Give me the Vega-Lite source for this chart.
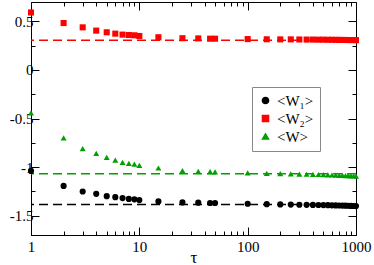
{
  "$schema": "https://vega.github.io/schema/vega-lite/v6.json",
  "width": 325,
  "height": 233,
  "autosize": "none",
  "padding": {"left": 31, "top": 2, "right": 18, "bottom": 30},
  "background": "white",
  "config": {
    "view": {"stroke": "black", "strokeWidth": 1},
    "axis": {"grid": false, "domainColor": "black", "tickColor": "black", "labelFont": "Liberation Serif", "labelFontSize": 15, "labelColor": "black", "titleFont": "Liberation Serif", "titleColor": "black", "titleFontWeight": "normal"}
  },
  "datasets": {
    "pts": [
      {"tau":1,"s":"<W₁>","v":-1.04},{"tau":2,"s":"<W₁>","v":-1.194},{"tau":3,"s":"<W₁>","v":-1.252},{"tau":4,"s":"<W₁>","v":-1.276},{"tau":5,"s":"<W₁>","v":-1.30},{"tau":6,"s":"<W₁>","v":-1.31},{"tau":7,"s":"<W₁>","v":-1.32},{"tau":8,"s":"<W₁>","v":-1.328},{"tau":9,"s":"<W₁>","v":-1.333},{"tau":10,"s":"<W₁>","v":-1.34},{"tau":15,"s":"<W₁>","v":-1.354},{"tau":25,"s":"<W₁>","v":-1.364},{"tau":35,"s":"<W₁>","v":-1.367},{"tau":45,"s":"<W₁>","v":-1.37},{"tau":50,"s":"<W₁>","v":-1.37},{"tau":100,"s":"<W₁>","v":-1.378},{"tau":150,"s":"<W₁>","v":-1.382},{"tau":200,"s":"<W₁>","v":-1.385},{"tau":250,"s":"<W₁>","v":-1.387},{"tau":300,"s":"<W₁>","v":-1.388},{"tau":350,"s":"<W₁>","v":-1.389},{"tau":400,"s":"<W₁>","v":-1.39},{"tau":450,"s":"<W₁>","v":-1.391},{"tau":500,"s":"<W₁>","v":-1.392},{"tau":550,"s":"<W₁>","v":-1.393},{"tau":600,"s":"<W₁>","v":-1.394},{"tau":650,"s":"<W₁>","v":-1.395},{"tau":700,"s":"<W₁>","v":-1.396},{"tau":750,"s":"<W₁>","v":-1.397},{"tau":800,"s":"<W₁>","v":-1.398},{"tau":850,"s":"<W₁>","v":-1.399},{"tau":900,"s":"<W₁>","v":-1.40},{"tau":950,"s":"<W₁>","v":-1.401},{"tau":1000,"s":"<W₁>","v":-1.402},
      {"tau":1,"s":"<W₂>","v":0.592},{"tau":2,"s":"<W₂>","v":0.483},{"tau":3,"s":"<W₂>","v":0.439},{"tau":4,"s":"<W₂>","v":0.405},{"tau":5,"s":"<W₂>","v":0.388},{"tau":6,"s":"<W₂>","v":0.374},{"tau":7,"s":"<W₂>","v":0.364},{"tau":8,"s":"<W₂>","v":0.36},{"tau":9,"s":"<W₂>","v":0.357},{"tau":10,"s":"<W₂>","v":0.35},{"tau":15,"s":"<W₂>","v":0.337},{"tau":25,"s":"<W₂>","v":0.327},{"tau":35,"s":"<W₂>","v":0.325},{"tau":45,"s":"<W₂>","v":0.322},{"tau":50,"s":"<W₂>","v":0.322},{"tau":100,"s":"<W₂>","v":0.318},{"tau":150,"s":"<W₂>","v":0.316},{"tau":200,"s":"<W₂>","v":0.315},{"tau":250,"s":"<W₂>","v":0.315},{"tau":300,"s":"<W₂>","v":0.314},{"tau":350,"s":"<W₂>","v":0.313},{"tau":400,"s":"<W₂>","v":0.313},{"tau":450,"s":"<W₂>","v":0.312},{"tau":500,"s":"<W₂>","v":0.312},{"tau":550,"s":"<W₂>","v":0.311},{"tau":600,"s":"<W₂>","v":0.311},{"tau":650,"s":"<W₂>","v":0.31},{"tau":700,"s":"<W₂>","v":0.31},{"tau":750,"s":"<W₂>","v":0.309},{"tau":800,"s":"<W₂>","v":0.309},{"tau":850,"s":"<W₂>","v":0.308},{"tau":900,"s":"<W₂>","v":0.308},{"tau":950,"s":"<W₂>","v":0.308},{"tau":1000,"s":"<W₂>","v":0.307},
      {"tau":1,"s":"<W>","v":-0.442},{"tau":2,"s":"<W>","v":-0.70},{"tau":3,"s":"<W>","v":-0.81},{"tau":4,"s":"<W>","v":-0.86},{"tau":5,"s":"<W>","v":-0.90},{"tau":6,"s":"<W>","v":-0.929},{"tau":7,"s":"<W>","v":-0.952},{"tau":8,"s":"<W>","v":-0.963},{"tau":9,"s":"<W>","v":-0.969},{"tau":10,"s":"<W>","v":-0.983},{"tau":15,"s":"<W>","v":-1.01},{"tau":25,"s":"<W>","v":-1.037},{"tau":35,"s":"<W>","v":-1.044},{"tau":45,"s":"<W>","v":-1.048},{"tau":50,"s":"<W>","v":-1.05},{"tau":100,"s":"<W>","v":-1.06},{"tau":150,"s":"<W>","v":-1.065},{"tau":200,"s":"<W>","v":-1.068},{"tau":250,"s":"<W>","v":-1.07},{"tau":300,"s":"<W>","v":-1.072},{"tau":350,"s":"<W>","v":-1.074},{"tau":400,"s":"<W>","v":-1.076},{"tau":450,"s":"<W>","v":-1.077},{"tau":500,"s":"<W>","v":-1.079},{"tau":550,"s":"<W>","v":-1.08},{"tau":600,"s":"<W>","v":-1.082},{"tau":650,"s":"<W>","v":-1.083},{"tau":700,"s":"<W>","v":-1.085},{"tau":750,"s":"<W>","v":-1.086},{"tau":800,"s":"<W>","v":-1.088},{"tau":850,"s":"<W>","v":-1.089},{"tau":900,"s":"<W>","v":-1.091},{"tau":950,"s":"<W>","v":-1.092},{"tau":1000,"s":"<W>","v":-1.094}
    ],
    "lines": [
      {"s":"<W₁>","v":-1.385},
      {"s":"<W₂>","v":0.306},
      {"s":"<W>","v":-1.068}
    ]
  },
  "resolve": {"axis": {"x": "independent", "y": "independent"}},
  "layer": [
    {
      "data": {"name": "lines"},
      "mark": {"type": "rule", "strokeDash": [9, 5], "strokeWidth": 1.5},
      "encoding": {
        "y": {"field": "v", "type": "quantitative", "scale": {"domain": [-1.7, 0.7], "nice": false, "zero": false},
          "axis": {"orient": "right", "title": null, "labels": false, "domain": false,
            "values": [-1.5, -1.25, -1, -0.75, -0.5, -0.25, 0, 0.25, 0.5],
            "tickSize": {"condition": {"test": "abs(datum.value*2 - round(datum.value*2)) < 0.001", "value": -8}, "value": -4}}},
        "color": {"field": "s", "type": "nominal", "scale": {"domain": ["<W₁>", "<W₂>", "<W>"], "range": ["#000000", "#ff0000", "#00a000"]}}
      }
    },
    {
      "data": {"name": "pts"},
      "mark": {"type": "point", "filled": true, "opacity": 1},
      "encoding": {
        "x": {"field": "tau", "type": "quantitative", "scale": {"type": "log", "domain": [1, 1000], "nice": false},
          "axis": {"orient": "bottom", "title": "τ", "titleFontSize": 17, "titleBaseline": "alphabetic", "titleY": 27,
            "values": [1,2,3,4,5,6,7,8,9,10,20,30,40,50,60,70,80,90,100,200,300,400,500,600,700,800,900,1000],
            "labelExpr": "indexof([1,10,100,1000], datum.value) >= 0 ? '' + datum.value : ''",
            "labelPadding": 12, "labelFlush": false, "labelOverlap": false,
            "tickSize": {"condition": {"test": "indexof([1,10,100,1000], datum.value) >= 0", "value": -8}, "value": -4}}},
        "y": {"field": "v", "type": "quantitative", "scale": {"domain": [-1.7, 0.7], "nice": false, "zero": false},
          "axis": {"orient": "left", "title": null,
            "values": [-1.5, -1.25, -1, -0.75, -0.5, -0.25, 0, 0.25, 0.5],
            "labelExpr": "abs(datum.value*2 - round(datum.value*2)) < 0.001 ? '' + datum.value : ''",
            "labelPadding": 6, "labelOverlap": false,
            "tickSize": {"condition": {"test": "abs(datum.value*2 - round(datum.value*2)) < 0.001", "value": -8}, "value": -4}}},
        "color": {"field": "s", "type": "nominal", "scale": {"domain": ["<W₁>", "<W₂>", "<W>"], "range": ["#000000", "#ff0000", "#00a000"]},
          "legend": {"title": null, "orient": "none", "legendX": 221, "legendY": 85, "labelFont": "Liberation Serif", "labelFontSize": 15, "labelColor": "black",
            "strokeColor": "#888888", "fillColor": "white", "padding": 6, "rowPadding": 2}},
        "shape": {"field": "s", "type": "nominal", "scale": {"domain": ["<W₁>", "<W₂>", "<W>"], "range": ["circle", "square", "triangle-up"]}},
        "size": {"field": "s", "type": "nominal", "scale": {"domain": ["<W₁>", "<W₂>", "<W>"], "range": [38, 36, 55]}}
      }
    },
    {
      "data": {"name": "lines"},
      "mark": {"type": "rule", "opacity": 0},
      "encoding": {
        "x": {"field": "v", "type": "quantitative", "scale": {"type": "log", "domain": [1, 1000], "nice": false},
          "axis": {"orient": "top", "title": null, "labels": false, "domain": false,
            "values": [1,2,3,4,5,6,7,8,9,10,20,30,40,50,60,70,80,90,100,200,300,400,500,600,700,800,900,1000],
            "tickSize": {"condition": {"test": "indexof([1,10,100,1000], datum.value) >= 0", "value": -8}, "value": -4}}}
      }
    }
  ]
}
